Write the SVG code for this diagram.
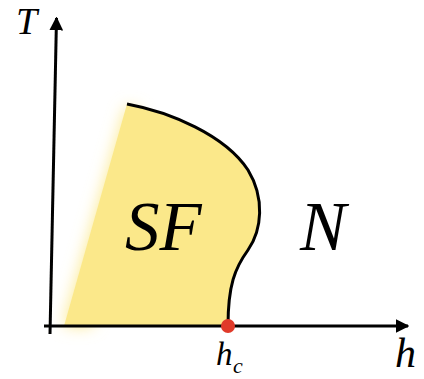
<svg xmlns="http://www.w3.org/2000/svg" width="424" height="379" viewBox="0 0 424 379">
<style>
.lbl{font-family:"Liberation Serif","Times New Roman",serif;font-style:italic;fill:#000}
.ax{stroke:#000;stroke-width:3;fill:none}
</style>
<defs>
<marker id="arr" viewBox="0 0 10 10" refX="9" refY="5" markerWidth="4.6" markerHeight="4.6" orient="auto" markerUnits="strokeWidth"><path d="M0,0 L10,5 L0,10 Z" fill="#000"/></marker>
<filter id="blur" x="-50%" y="-50%" width="200%" height="200%"><feGaussianBlur stdDeviation="8"/></filter>
</defs>
<g id="sf-region">
<path d="M127,106 L64,326 L92,326 L140,112 Z" fill="#fbe88a" filter="url(#blur)"/>
<path d="M127,104 C170,112 225,135 248,170 C265,198 262,230 248,250 C235,268 228,285 228,326 L64,326 Z" fill="#fbe88a"/>
<path d="M127,104 C170,112 225,135 248,170 C265,198 262,230 248,250 C235,268 228,285 228,326" fill="none" stroke="#000" stroke-width="3"/>
</g>
<g id="axes">
<line class="ax" x1="50" y1="334" x2="56.5" y2="18" marker-end="url(#arr)"/>
<line class="ax" x1="44" y1="326" x2="408" y2="326" marker-end="url(#arr)"/>
</g>
<g id="hc-point"><circle cx="228" cy="326" r="7" fill="#e03a2a"/></g>
<g id="labels">
<text class="lbl" x="16" y="34" font-size="38">T</text>
<text class="lbl" x="125" y="250" font-size="69">SF</text>
<text class="lbl" x="300" y="250" font-size="69">N</text>
<text class="lbl" x="395" y="367" font-size="42">h</text>
<text class="lbl" x="216" y="365" font-size="33">h</text>
<text class="lbl" x="233" y="373" font-size="22">c</text>
</g>
</svg>
